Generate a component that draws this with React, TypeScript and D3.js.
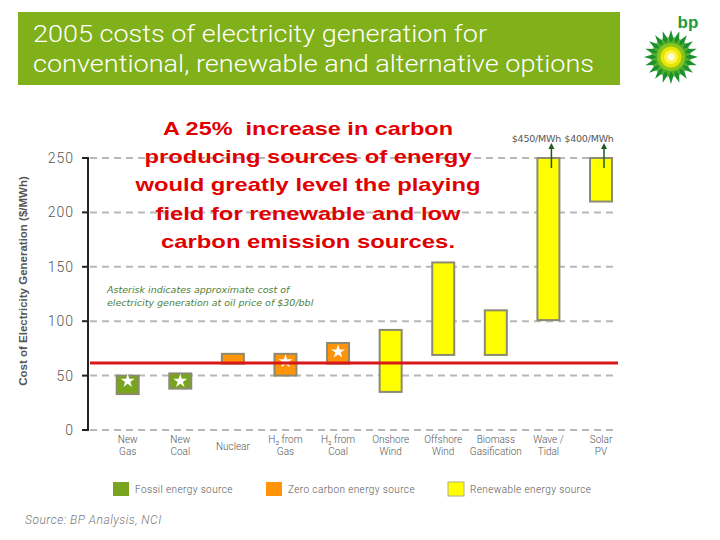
import React from "react";
import * as d3 from "d3";

const categories = ["New Gas", "New Coal", "Nuclear", "H2 from Gas", "H2 from Coal", "Onshore Wind", "Offshore Wind", "Biomass Gasification", "Wave / Tidal", "Solar PV"];
const labelLines: string[][] = [["New", "Gas"], ["New", "Coal"], ["Nuclear"], ["H₂ from", "Gas"], ["H₂ from", "Coal"], ["Onshore", "Wind"], ["Offshore", "Wind"], ["Biomass", "Gasification"], ["Wave /", "Tidal"], ["Solar", "PV"]];
const lowValues = [33, 38, 61, 50, 61, 35, 69, 69, 101, 210];
const highValues = [50, 52, 70, 70, 80, 92, 154, 110, 450, 400];
const sourceTypes = ["fossil", "fossil", "zero", "zero", "zero", "renew", "renew", "renew", "renew", "renew"];
const starValues: (number | null)[] = [45, 45, null, 63, 72, null, null, null, null, null];
const yTicks = [0, 50, 100, 150, 200, 250];
const thresholdValue = 61.5;
const legendItems = [
  { key: "fossil", label: "Fossil energy source" },
  { key: "zero", label: "Zero carbon energy source" },
  { key: "renew", label: "Renewable energy source" },
];
const titleLines = ["2005 costs of electricity generation for", "conventional, renewable and alternative options"];
const calloutLines = ["A 25%  increase in carbon", "producing sources of energy", "would greatly level the playing", "field for renewable and low", "carbon emission sources."];

const colors: Record<string, string> = { fossil: "#78a41e", zero: "#ff9408", renew: "#ffff00" };

export default function App() {
  const y = d3.scaleLinear().domain([0, 250]).range([430, 158]);
  const x = d3.scalePoint<string>().domain(categories).range([127.7, 601]);
  const barW = 22;
  const star = d3.symbol().type(d3.symbolStar).size(60)() as string;
  const gridX0 = 90, gridX1 = 618;
  const sans = "Roboto, 'Liberation Sans', sans-serif";
  const titleWidths = [454, 561];
  const calloutWidths = [290, 327, 345, 305, 294];

  const outer = d3.range(20).map((i) => i * 18);
  const inner = d3.range(20).map((i) => i * 18 + 9);

  return (
    <svg width={720} height={540} style={{ position: "absolute", left: 0, top: 0, background: "#fff" }}>
      <rect x={0} y={0} width={720} height={540} fill="#fff" />
      {/* Title band */}
      <rect x={18} y={12} width={602} height={73} fill="#80b01a" />
      {titleLines.map((t, i) => (
        <text key={t} x={33} y={42 + i * 29.5} fill="#fff" fontFamily={sans} fontWeight={300} fontSize={23}
          textLength={titleWidths[i]} lengthAdjust="spacingAndGlyphs">{t}</text>
      ))}

      {/* BP logo */}
      <g transform="translate(671,57)">
        {outer.map((a, i) => (
          <path key={"o" + i} d="M-4.5,-12 L0,-27 L4.5,-12 Z" fill="#1d8f2e" transform={`rotate(${a})`} />
        ))}
        {inner.map((a, i) => (
          <path key={"i" + i} d="M-4,-9 L0,-21 L4,-9 Z" fill="#4cae2a" transform={`rotate(${a})`} />
        ))}
        <circle r={14} fill="#8cc41e" />
        <circle r={10.5} fill="#e6e600" />
        <circle r={7} fill="#fff34a" />
        <circle r={3.5} fill="#fffbe0" />
        <text x={17} y={-29} fill="#1f9a3a" fontFamily="'Liberation Sans', sans-serif" fontWeight="bold" fontSize={17} textAnchor="middle">bp</text>
      </g>

      {/* Grid */}
      {yTicks.map((t) => (
        <line key={t} x1={gridX0} x2={gridX1} y1={y(t)} y2={y(t)} stroke="#b8b8b8" strokeWidth={2} strokeDasharray="7,5" />
      ))}
      {/* Axis */}
      <line x1={88} x2={88} y1={y(250) - 1} y2={y(0) + 1} stroke="#222" strokeWidth={2} />
      {yTicks.map((t) => (
        <g key={"t" + t}>
          <line x1={82} x2={88} y1={y(t)} y2={y(t)} stroke="#222" strokeWidth={2} />
          <text x={74} y={y(t) + 5} textAnchor="end" fontFamily={sans} fontWeight={300} fontSize={14} letterSpacing={1} fill="#555">{t}</text>
        </g>
      ))}
      <text transform={`translate(27,281) rotate(-90)`} textAnchor="middle" fontFamily="'Liberation Sans', Arial, sans-serif" fontWeight="bold" fontSize={11.5} fill="#555">Cost  of Electricity Generation ($/MWh)</text>

      {/* Note */}
      <text x={107} y={293} fontFamily="'DejaVu Sans', sans-serif" fontStyle="italic" fontSize={9.5} fill="#4f7f3a">Asterisk indicates approximate cost of</text>
      <text x={107} y={306} fontFamily="'DejaVu Sans', sans-serif" fontStyle="italic" fontSize={9.5} fill="#4f7f3a">electricity generation at oil price of $30/bbl</text>

      {/* Bars */}
      {categories.map((c, i) => {
        const cx = x(c) as number;
        const top = y(Math.min(highValues[i], 250));
        const bot = y(lowValues[i]);
        return (
          <g key={c}>
            <rect x={cx - barW / 2} y={top} width={barW} height={bot - top} fill={colors[sourceTypes[i]]} stroke="#8c8a70" strokeWidth={2} />
            {starValues[i] != null && (
              <path d={star} fill="#fff" transform={`translate(${cx},${y(starValues[i] as number)})`} />
            )}
          </g>
        );
      })}

      {/* Red threshold line */}
      <line x1={gridX0} x2={gridX1} y1={y(thresholdValue)} y2={y(thresholdValue)} stroke="#d81818" strokeWidth={3} />

      {/* Off-scale arrows */}
      {categories.map((c, i) => {
        if (highValues[i] <= 250) return null;
        const cx = x(c) as number;
        return (
          <g key={"a" + c}>
            <line x1={cx + 3} x2={cx + 3} y1={y(250) + 10} y2={y(250) - 10} stroke="#1f5a1f" strokeWidth={1.5} />
            <path d={`M${cx + 3},${y(250) - 15} l-3,6 l6,0 Z`} fill="#1f5a1f" />
            <text x={cx - 12} y={y(250) - 16} textAnchor="middle" fontFamily="'DejaVu Sans', sans-serif" fontSize={9.5} letterSpacing={-0.2} fill="#555">{`$${highValues[i]}/MWh`}</text>
          </g>
        );
      })}

      {/* Category labels */}
      {categories.map((c, i) => {
        const cx = x(c) as number;
        const lines = labelLines[i];
        const y0 = lines.length === 1 ? 450 : 443;
        return (
          <text key={"l" + c} textAnchor="middle" fontFamily={sans} fontWeight={300} fontSize={10} fill="#555">
            {lines.map((ln, j) => (
              <tspan key={j} x={cx} y={y0 + j * 12}>{ln}</tspan>
            ))}
          </text>
        );
      })}

      {/* Legend */}
      {legendItems.map((it, i) => {
        const lx = [113, 266, 448][i];
        return (
          <g key={it.key}>
            <rect x={lx} y={482} width={16} height={14} fill={colors[it.key]} stroke={it.key === "renew" ? "#b0b080" : "none"} strokeWidth={1} />
            <text x={lx + 22} y={493} fontFamily={sans} fontWeight={300} fontSize={10} letterSpacing={0.4} fill="#555">{it.label}</text>
          </g>
        );
      })}

      {/* Source */}
      <text x={25} y={524} fontFamily={sans} fontStyle="italic" fontWeight={300} fontSize={12} letterSpacing={0.5} fill="#777">Source: BP Analysis, NCI</text>

      {/* Callout */}
      {calloutLines.map((ln, i) => (
        <text key={"c" + i} x={308 - calloutWidths[i] / 2} y={135 + i * 28.2} fontFamily="'Liberation Sans', Arial, sans-serif" fontWeight="bold" fontSize={19} fill="#e00000" style={{ whiteSpace: "pre" }}
          textLength={calloutWidths[i]} lengthAdjust="spacingAndGlyphs">{ln}</text>
      ))}
    </svg>
  );
}
